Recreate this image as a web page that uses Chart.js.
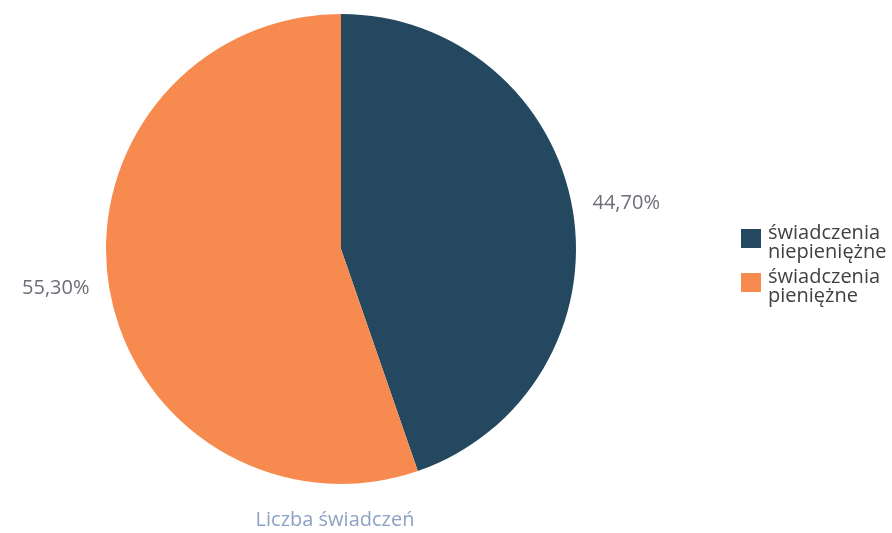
<!DOCTYPE html>
<html>
<head>
<meta charset="utf-8">
<script src="https://cdn.jsdelivr.net/npm/chart.js@4/dist/chart.umd.min.js"></script>
<style>
html,body{margin:0;padding:0;background:#fff;}
#wrap{width:892px;height:533px;position:relative;}
</style>
</head>
<body>
<div id="wrap"><canvas id="c" width="892" height="533"></canvas></div>
<script>
const categories = [['świadczenia', 'niepieniężne'], ['świadczenia', 'pieniężne']];
const values = [44.70, 55.30];
const colors = ['#24485f', '#f78a4f'];
const chartTitle = 'Liczba świadczeń';

const FONT = '"Open Sans", "Noto Sans", sans-serif';

function fmt(v) { return v.toFixed(2).replace('.', ',') + '%'; }

const overlay = {
  id: 'overlay',
  afterDraw(chart) {
    const ctx = chart.ctx;
    const meta = chart.getDatasetMeta(0);
    ctx.save();
    ctx.font = '20px ' + FONT;
    ctx.fillStyle = '#6b6e76';
    ctx.textBaseline = 'middle';
    meta.data.forEach((arc, i) => {
      const mid = (arc.startAngle + arc.endAngle) / 2;
      const r = arc.outerRadius + 20;
      const x = arc.x + Math.cos(mid) * r;
      const y = arc.y + Math.sin(mid) * r;
      ctx.textAlign = Math.cos(mid) >= 0 ? 'left' : 'right';
      ctx.fillText(fmt(values[i]), x, y - 3);
    });
    // title
    ctx.fillStyle = '#8ea1c3';
    ctx.textAlign = 'center';
    ctx.fillText(chartTitle, meta.data[0].x - 6, 520);
    // legend
    const lx = 741, lh = 19;
    ctx.textAlign = 'left';
    let y = 233;
    categories.forEach((lines, i) => {
      ctx.fillStyle = colors[i];
      ctx.fillRect(lx, y - 4, 20, 19);
      ctx.fillStyle = '#404040';
      lines.forEach((t, j) => {
        ctx.fillText(t, lx + 27, y + j * lh);
      });
      y += lines.length * lh + 6;
    });
    ctx.restore();
  }
};

new Chart(document.getElementById('c'), {
  type: 'pie',
  data: {
    labels: categories.map(c => c.join(' ')),
    datasets: [{
      data: values,
      backgroundColor: colors,
      borderWidth: 0,
      hoverOffset: 0
    }]
  },
  options: {
    responsive: false,
    animation: false,
    layout: { padding: { left: 106, right: 316, top: 14, bottom: 49 } },
    plugins: {
      legend: { display: false },
      tooltip: { enabled: false },
      title: { display: false }
    }
  },
  plugins: [overlay]
});
</script>
</body>
</html>
